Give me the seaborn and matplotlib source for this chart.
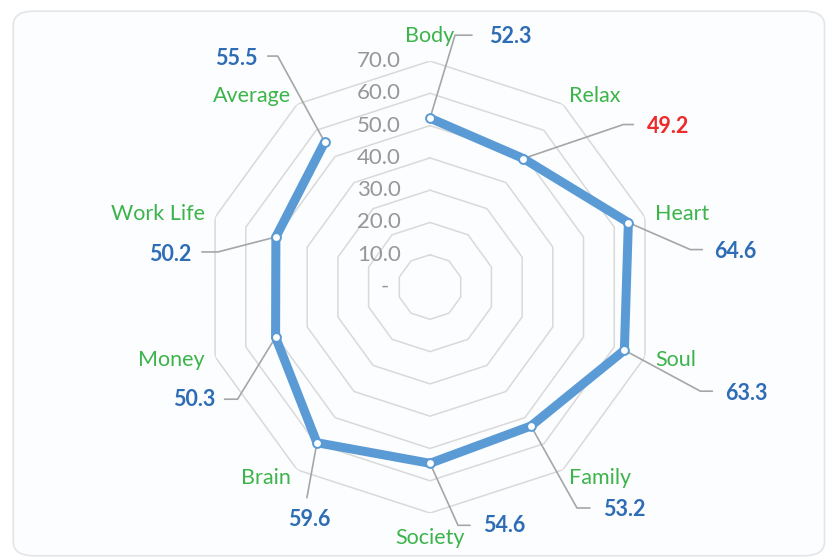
import numpy as np
import pandas as pd
import matplotlib
matplotlib.use("Agg")
import matplotlib.pyplot as plt
import matplotlib.transforms as mtransforms
from matplotlib.patches import FancyBboxPatch
import seaborn as sns

# ---------------- data ----------------
categories = ["Body", "Relax", "Heart", "Soul", "Family",
              "Society", "Brain", "Money", "Work Life", "Average"]
scores = [52.3, 49.2, 64.6, 63.3, 53.2, 54.6, 59.6, 50.3, 50.2, 55.5]
tick_values = [0, 10, 20, 30, 40, 50, 60, 70]
tick_labels = ["-  ", "10.0", "20.0", "30.0", "40.0", "50.0", "60.0", "70.0"]
highlighted = ["Relax"]

# ---------------- layout (pixel offsets of value labels / leaders) ----------------
leader_paths = {
    "Body":      [(0, 0), (25, 83), (42, 83)],
    "Relax":     [(0, 0), (100, 34), (110, 34)],
    "Heart":     [(0, 0), (62, -27), (74, -27)],
    "Soul":      [(0, 0), (76, -41), (88, -41)],
    "Family":    [(0, 0), (46, -82), (59, -82)],
    "Society":   [(0, 0), (28, -62), (40, -62)],
    "Brain":     [(0, 0), (-10, -55)],
    "Money":     [(0, 0), (-38, -62), (-51, -62)],
    "Work Life": [(0, 0), (-58, -15), (-74, -15)],
    "Average":   [(0, 0), (-47, 86), (-57, 86)],
}
label_offsets = {
    "Body": (59, 82, "left"), "Relax": (124, 32, "left"),
    "Heart": (86, -29, "left"), "Soul": (101, -43, "left"),
    "Family": (72, -84, "left"), "Society": (53, -62, "left"),
    "Brain": (-8, -77, "center"), "Money": (-60, -62, "right"),
    "Work Life": (-84, -18, "right"), "Average": (-67, 84, "right"),
}

LINE_BLUE = "#5b9bd5"
VALUE_BLUE = "#2e6db6"
RED = "#ee2a2a"
GREEN = "#3cb44b"
GRID = "#d9d9d9"
TICK_GRAY = "#979797"
LEADER = "#a6a6a6"

sns.set_theme(style="white")
plt.rcParams["font.family"] = ["Lato", "DejaVu Sans"]

fig = plt.figure(figsize=(8.32, 5.58), dpi=100)
fig.patch.set_facecolor("white")
frame = FancyBboxPatch((0.016, 0.004), 0.975, 0.976,
                       boxstyle="round,pad=0,rounding_size=0.025",
                       transform=fig.transFigure, fc="#fcfdfe",
                       ec="#e3e5e8", lw=1.2, zorder=-10)
fig.patches.append(frame)

ax = fig.add_axes([0.2452, 0.0806, 0.5433, 0.810], projection="polar")
ax.set_zorder(1)
ax.set_theta_zero_location("N")
ax.set_theta_direction(-1)
ax.set_ylim(0, 70)
ax.grid(False)
ax.spines["polar"].set_visible(False)
ax.set_xticks([])
ax.set_yticks([])
ax.patch.set_alpha(0)

n = len(categories)
theta = np.arange(n) * 2 * np.pi / n
ring_theta = np.append(theta, theta[0])

# polygon gridlines
for v in tick_values[1:]:
    ax.plot(ring_theta, [v] * (n + 1), color=GRID, lw=1.1, zorder=1)

# radial tick labels
tick_trans = mtransforms.offset_copy(ax.transData, fig=fig, x=-29, y=0, units="dots")
for v, lab in zip(tick_values, tick_labels):
    ax.text(0, v, lab, transform=tick_trans, ha="right", va="center",
            fontsize=16, color=TICK_GRAY, zorder=2)

# series line
df = pd.DataFrame({"theta": np.append(theta, theta[0]),
                   "score": scores + [scores[0]]})
sns.lineplot(data=df, x="theta", y="score", ax=ax, sort=False,
             color=LINE_BLUE, lw=6.5, zorder=3, legend=False)
pts = pd.DataFrame({"theta": theta, "score": scores})
sns.scatterplot(data=pts, x="theta", y="score", ax=ax, s=40,
                color="white", edgecolor=LINE_BLUE, linewidth=1.4,
                zorder=4, legend=False)
ax.set_xlabel("")
ax.set_ylabel("")
ax.set_ylim(0, 70)
ax.set_xticks([])
ax.set_yticks([])

# category labels
for cat, th in zip(categories, theta):
    s = np.sin(th)
    if abs(s) < 0.1:
        ha, r = "center", 77.7
    else:
        ha, r = ("left" if s > 0 else "right"), 73.3
    ax.text(th, r, cat, ha=ha, va="center", fontsize=15.5, color=GREEN, zorder=5)

# value labels with leader lines
for cat, th, val in zip(categories, theta, scores):
    base = mtransforms.ScaledTranslation(th, val, ax.transData)
    path = np.array(leader_paths[cat], dtype=float)
    ax.plot(path[:, 0], path[:, 1], transform=mtransforms.Affine2D() + base,
            color=LEADER, lw=1.2, zorder=2.5, clip_on=False)
    dx, dy, ha = label_offsets[cat]
    ax.annotate(f"{val:.1f}", xy=(th, val), xytext=(dx, dy),
                textcoords="offset pixels", ha=ha, va="center",
                fontsize=15.5, fontweight="bold",
                color=RED if cat in highlighted else VALUE_BLUE, zorder=5,
                annotation_clip=False)

fig.savefig("out.png", dpi=100)
